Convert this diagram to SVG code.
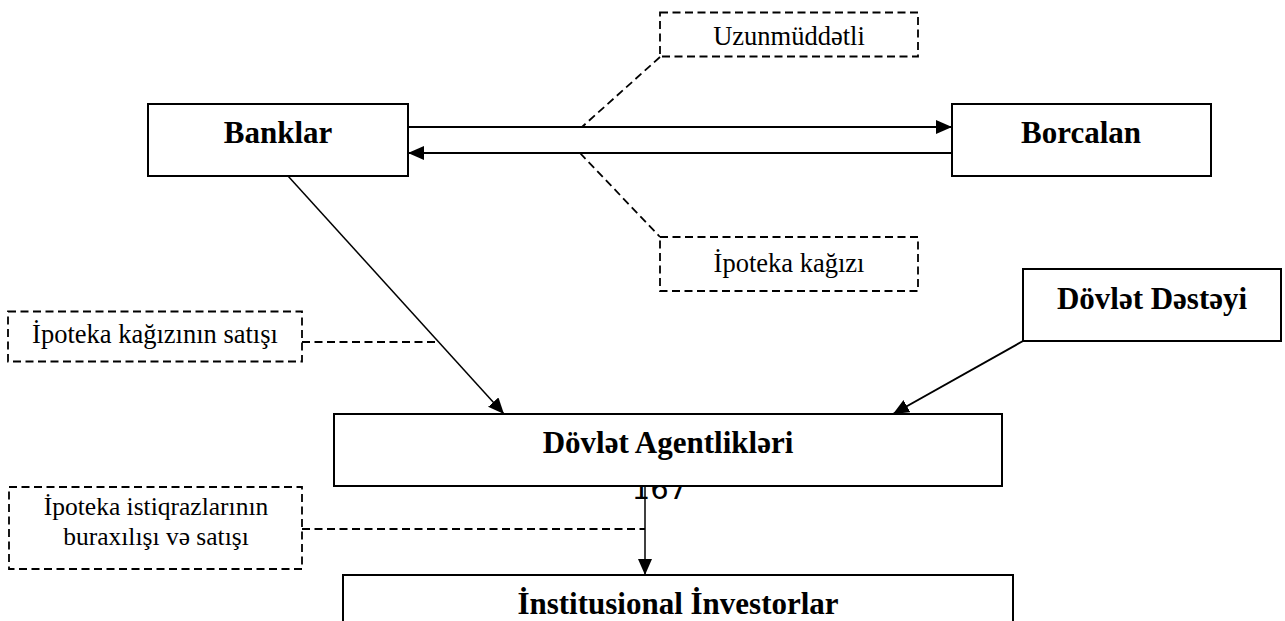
<svg xmlns="http://www.w3.org/2000/svg" width="1285" height="621" viewBox="0 0 1285 621">
<style>
.box{fill:#fff;stroke:#000;stroke-width:2}
.dbox{fill:#fff;stroke:#000;stroke-width:1.8;stroke-dasharray:8,4.5}
.dline{fill:none;stroke:#000;stroke-width:1.8;stroke-dasharray:8,4.5}
.conn{fill:none;stroke:#000;stroke-width:2}
.thin{fill:none;stroke:#000;stroke-width:1.5}
.bt{font-family:"Liberation Serif","Times New Roman",serif;font-weight:bold;font-size:31px;text-anchor:middle;fill:#000}
.nt{font-family:"Liberation Serif","Times New Roman",serif;font-size:26.5px;text-anchor:middle;fill:#000}
.nt2{font-family:"Liberation Serif","Times New Roman",serif;font-size:25.5px;text-anchor:middle;fill:#000}
.pg{font-family:"DejaVu Sans",sans-serif;font-size:29px;text-anchor:middle;fill:#000}
</style>
<defs>
<marker id="arr" markerUnits="userSpaceOnUse" markerWidth="18" markerHeight="16" refX="16" refY="7" orient="auto">
<path d="M0,0 L16,7 L0,14 Z" fill="#000"/>
</marker>
</defs>

<text class="pg" x="659.5" y="499">167</text>

<g id="banklar"><rect class="box" x="148" y="104" width="260" height="72"/><text class="bt" x="278" y="143">Banklar</text></g>
<g id="borcalan"><rect class="box" x="952" y="104" width="259" height="72"/><text class="bt" x="1081" y="143">Borcalan</text></g>
<g id="uzunmuddetli"><rect class="dbox" x="660" y="12.5" width="258" height="44"/><text class="nt" x="789" y="45">Uzunmüddətli</text></g>
<g id="ipoteka-kagizi"><rect class="dbox" x="660" y="237" width="258" height="54"/><text class="nt" x="789" y="272">İpoteka kağızı</text></g>
<g id="ipoteka-kagizinin-satisi"><rect class="dbox" x="8" y="311.5" width="294" height="50"/><text class="nt" x="155" y="343">İpoteka kağızının satışı</text></g>
<g id="dovlet-desteyi"><rect class="box" x="1023" y="269" width="258" height="72"/><text class="bt" x="1152" y="309">Dövlət Dəstəyi</text></g>
<g id="dovlet-agentlikleri"><rect class="box" x="334" y="414" width="668" height="72"/><text class="bt" x="668" y="453">Dövlət Agentlikləri</text></g>
<g id="ipoteka-istiqrazlari"><rect class="dbox" x="9" y="487" width="293" height="82"/><text class="nt2" x="156" y="515">İpoteka istiqrazlarının</text><text class="nt2" x="156" y="544.5">buraxılışı və satışı</text></g>
<g id="institusional"><rect class="box" x="343" y="575" width="670" height="80"/><text class="bt" x="678" y="614">İnstitusional İnvestorlar</text></g>

<g id="connectors">
<line class="conn" x1="408" y1="127" x2="952" y2="127" marker-end="url(#arr)"/>
<line class="conn" x1="952" y1="153" x2="408" y2="153" marker-end="url(#arr)"/>
<line class="thin" x1="288" y1="176" x2="504" y2="414" marker-end="url(#arr)"/>
<line class="conn" x1="1023" y1="341" x2="893" y2="414" marker-end="url(#arr)"/>
<line class="thin" x1="645" y1="486" x2="645" y2="575" marker-end="url(#arr)"/>
<line class="dline" x1="660" y1="57" x2="582" y2="127"/>
<line class="dline" x1="580" y1="153" x2="660" y2="237"/>
<line class="dline" x1="302" y1="342" x2="437" y2="342"/>
<line class="dline" x1="302" y1="529" x2="645" y2="529"/>
</g>
</svg>
